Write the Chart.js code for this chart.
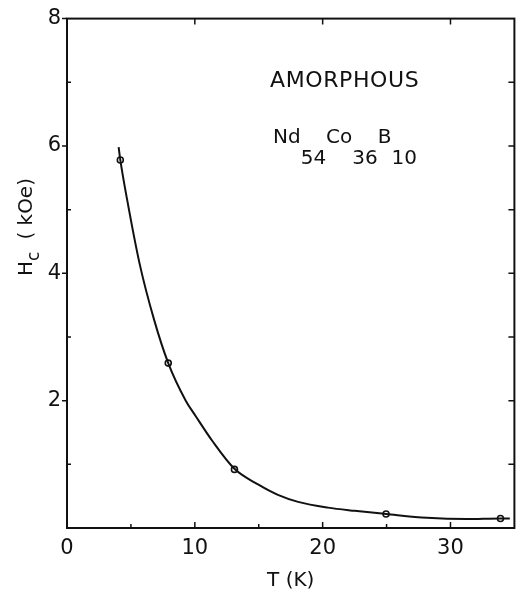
<!DOCTYPE html>
<html>
<head>
<meta charset="utf-8">
<script src="https://cdn.jsdelivr.net/npm/chart.js@4"></script>
<style>
  html, body { margin: 0; padding: 0; background: #fff; }
  canvas { display: block; }
</style>
</head>
<body>
<canvas id="hc-chart" width="520" height="595"></canvas>
<script>
// Measured points (open circles)
const tempPoints = [4.17, 7.92, 13.1, 24.96, 33.91];
const hcPoints = [5.78, 2.59, 0.92, 0.22, 0.15];

// Smooth guide curve through the points
const curveT = [4.04, 4.17, 4.7, 5.67, 6.8, 7.92, 9.29, 10.06, 11.36, 13.1, 14.98, 16.5, 18.08, 20.41, 22.5, 24.96, 28.17, 31.27, 33.91, 34.64];
const curveHc = [5.98, 5.78, 5.16, 4.16, 3.28, 2.59, 2.0, 1.76, 1.37, 0.93, 0.68, 0.52, 0.41, 0.32, 0.27, 0.22, 0.16, 0.14, 0.15, 0.15];

// Axis ticks
const xMajorTicks = [0, 10, 20, 30];
const xMinorTicks = [5, 15, 25];
const yMajorTicks = [0, 2, 4, 6, 8];
const yMinorTicks = [1, 3, 5, 7];
const yRightTicks = [1, 2, 3, 4, 5, 6, 7];

const FONT = '"DejaVu Sans", sans-serif';
const INK = '#111';

function toXY(xs, ys) {
  return xs.map((x, i) => ({ x: x, y: ys[i] }));
}

/**
 * Frame, tick marks and the text inside the plot
 */
const framePlugin = {
  id: 'frame',
  afterDraw(chart) {
    const ctx = chart.ctx;
    const area = chart.chartArea;
    const xs = chart.scales.x;
    const ys = chart.scales.y;

    ctx.save();
    ctx.strokeStyle = INK;
    ctx.lineWidth = 2;
    ctx.strokeRect(area.left, area.top, area.right - area.left, area.bottom - area.top);

    ctx.lineWidth = 1.5;
    ctx.beginPath();
    // bottom and top axes: inward ticks
    xMajorTicks.forEach(v => {
      if (v === 0) return;
      const px = xs.getPixelForValue(v);
      ctx.moveTo(px, area.bottom);
      ctx.lineTo(px, area.bottom - 6);
      ctx.moveTo(px, area.top);
      ctx.lineTo(px, area.top + 6);
    });
    xMinorTicks.forEach(v => {
      const px = xs.getPixelForValue(v);
      ctx.moveTo(px, area.bottom);
      ctx.lineTo(px, area.bottom - 4);
    });
    // left axis: major outward, minor inward
    yMajorTicks.forEach(v => {
      if (v === 0) return;
      const py = ys.getPixelForValue(v);
      ctx.moveTo(area.left - 5, py);
      ctx.lineTo(area.left, py);
    });
    yMinorTicks.forEach(v => {
      const py = ys.getPixelForValue(v);
      ctx.moveTo(area.left, py);
      ctx.lineTo(area.left + 4, py);
    });
    // right axis: inward ticks
    yRightTicks.forEach(v => {
      const py = ys.getPixelForValue(v);
      ctx.moveTo(area.right, py);
      ctx.lineTo(area.right - 6, py);
    });
    ctx.stroke();

    // Y axis title with subscript, rotated
    ctx.fillStyle = INK;
    ctx.translate(32, 276);
    ctx.rotate(-Math.PI / 2);
    ctx.textBaseline = 'alphabetic';
    ctx.textAlign = 'left';
    ctx.font = '20px ' + FONT;
    ctx.fillText('H', 0, 0);
    let w = ctx.measureText('H').width;
    ctx.font = '17px ' + FONT;
    ctx.fillText('c', w, 7);
    w += ctx.measureText('c').width + 12;
    ctx.font = '20px ' + FONT;
    ctx.fillText('( kOe)', w, 0);
    ctx.restore();

    // Annotation
    ctx.save();
    ctx.fillStyle = INK;
    ctx.textBaseline = 'alphabetic';
    ctx.font = '22px ' + FONT;
    ctx.letterSpacing = '0.6px';
    ctx.fillText('AMORPHOUS', 270, 87);
    ctx.letterSpacing = '0px';

    const formula = [['Nd', 0], ['54', 1], ['Co', 0], ['36', 1], ['B', 0], ['10', 1]];
    let fx = 273;
    ctx.font = '20px ' + FONT;
    formula.forEach(([txt, sub]) => {
      ctx.fillText(txt, fx, sub ? 164 : 143);
      fx += ctx.measureText(txt).width;
    });
    ctx.restore();
  }
};

function initChart() {
  const el = document.getElementById('hc-chart');
  new Chart(el.getContext('2d'), {
    type: 'scatter',
    data: {
      datasets: [{
        label: 'curve',
        data: toXY(curveT, curveHc),
        showLine: true,
        borderColor: INK,
        borderWidth: 2,
        pointRadius: 0,
        cubicInterpolationMode: 'monotone',
        fill: false
      }, {
        label: 'Hc',
        data: toXY(tempPoints, hcPoints),
        showLine: false,
        pointRadius: 3,
        pointBackgroundColor: '#fff',
        pointBorderColor: INK,
        pointBorderWidth: 1.6
      }]
    },
    options: {
      responsive: false,
      animation: false,
      devicePixelRatio: 1,
      layout: { padding: { top: 15, right: 4, left: 0, bottom: 0 } },
      plugins: {
        legend: { display: false },
        tooltip: { enabled: false }
      },
      scales: {
        x: {
          type: 'linear',
          min: 0,
          max: 35,
          afterFit: (s) => { s.height = 67; },
          grid: { display: false, drawTicks: false },
          border: { display: false },
          ticks: {
            stepSize: 10,
            includeBounds: false,
            padding: 8,
            color: INK,
            font: { family: FONT, size: 21 },
            maxRotation: 0
          },
          title: {
            display: true,
            text: 'T (K)',
            color: INK,
            font: { family: FONT, size: 20 },
            padding: { top: 0, bottom: 2 }
          }
        },
        y: {
          type: 'linear',
          min: 0,
          max: 8,
          afterFit: (s) => { s.width = 67; },
          grid: { display: false, drawTicks: false },
          border: { display: false },
          ticks: {
            stepSize: 2,
            padding: 6,
            color: INK,
            font: { family: FONT, size: 21 },
            callback: (v) => (v === 0 ? '' : v)
          }
        }
      }
    },
    plugins: [framePlugin]
  });
}

initChart();
</script>
</body>
</html>
